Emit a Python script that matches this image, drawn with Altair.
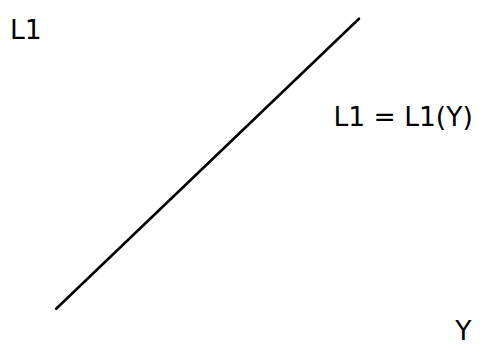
import altair as alt
import pandas as pd

# Conceptual diagram: L1 as a function of Y (arbitrary units)
line_y = [49, 357]
line_l1 = [36, 331]

label_text = ["L1", "L1 = L1(Y)", "Y"]
label_x = [2, 331, 455]
label_y = [310, 222, 4]

line_df = pd.DataFrame({"Y": line_y, "L1": line_l1})
label_df = pd.DataFrame({"text": label_text, "x": label_x, "y": label_y})

xs = alt.Scale(domain=[0, 475], nice=False, zero=False)
ys = alt.Scale(domain=[0, 339], nice=False, zero=False)

line = alt.Chart(line_df).mark_line(color="black", strokeWidth=2.6, strokeCap="round").encode(
    x=alt.X("Y:Q", scale=xs, axis=None),
    y=alt.Y("L1:Q", scale=ys, axis=None),
)

labels = alt.Chart(label_df).mark_text(
    align="left", baseline="alphabetic", fontSize=27, font="DejaVu Sans", color="black"
).encode(
    x=alt.X("x:Q", scale=xs, axis=None),
    y=alt.Y("y:Q", scale=ys, axis=None),
    text="text:N",
)

chart = (line + labels).properties(
    width=475, height=339, padding=0, autosize=alt.AutoSizeParams(type="none")
).configure_view(stroke=None)

chart.save("out.html", embed_options={"renderer": "svg", "actions": False})
